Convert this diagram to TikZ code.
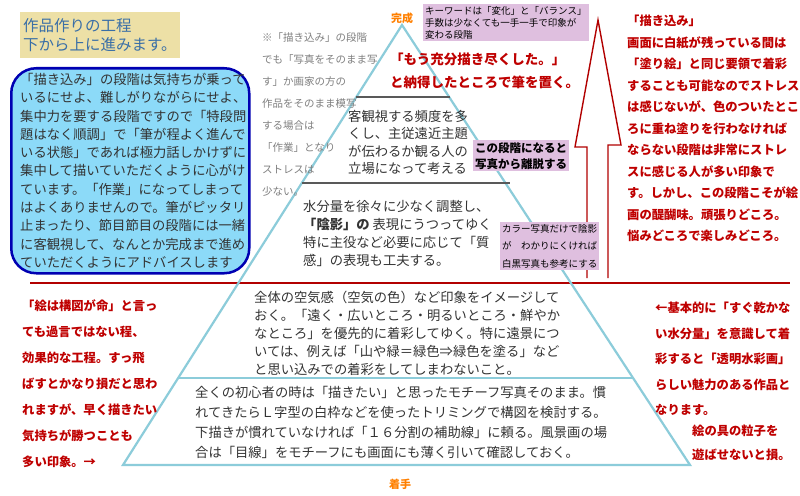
\documentclass[tikz,border=0pt]{standalone}
\usepackage{fontspec}
\setmainfont{Noto Sans CJK JP}
\definecolor{tan}{HTML}{EDE0A6}
\definecolor{trib}{HTML}{8CCCDA}
\definecolor{ttl}{HTML}{3A6FA6}
\begin{document}
\begin{tikzpicture}[x=1pt,y=-1pt,
  txt/.style={anchor=north west,align=left,inner sep=0pt,text=black!80},
  red/.style={txt,text=red!75!black,font=\bfseries},
  pbox/.style={fill=violet!25,inner sep=2pt,anchor=north west,align=left},
  tri/.style={draw=trib,line width=2.2pt},
  gl/.style={draw=gray!70!black,line width=2.5pt}]
\useasboundingbox (0,0) rectangle (800,495);
\fill[white] (0,0) rectangle (800,495);
% title
\node[fill=tan,anchor=north west,minimum width=145pt,minimum height=46pt,align=left,inner sep=3pt,text=ttl,font={\fontsize{15.5}{19}\selectfont}] (title) at (20,12) {作品作りの工程\\下から上に進みます。};
% blue box
\node[draw=blue!70!black,line width=2.5pt,fill=cyan!45,rounded corners=25pt,anchor=north west,minimum width=238pt,minimum height=205pt,inner sep=0pt] (bbox) at (10,67) {};
\node[txt,font={\fontsize{13.3}{18.3}\selectfont}] (btext) at (20,73) {「描き込み」の段階は気持ちが乗って\\いるにせよ、難しがりながらにせよ、\\集中力を要する段階ですので「特段問\\題はなく順調」で「筆が程よく進んで\\いる状態」であれば極力話しかけずに\\集中して描いていただくように心がけ\\ています。「作業」になってしまって\\はよくありませんので。筆がピッタリ\\止まったり、節目節目の段階には一緒\\に客観視して、なんとか完成まで進め\\ていただくようにアドバイスします};
% red separation line
\draw[red!70!black,line width=1.5pt] (30,283) coordinate (rl) -- (790,283) coordinate (rr);
% triangle
\coordinate (apex) at (402,25);
\coordinate (bl) at (123,465);
\coordinate (br) at (690,465);
\draw[tri] (bl) -- (apex) -- (br) -- cycle;
\draw[tri] (178,378) coordinate (ml) -- (633,378) coordinate (mr);
\draw[gl] (356,97) coordinate (g1) -- (450,97) coordinate (g2);
\draw[gl] (302,183) coordinate (g3) -- (510,183) coordinate (g4);
% gray note
\node[txt,text=gray,font={\fontsize{10.5}{22}\selectfont}] (note) at (262,32) {※「描き込み」の段階\\でも「写真をそのまま写\\す」か画家の方の\\作品をそのまま模写\\する場合は\\「作業」となり\\ストレスは\\少ない。};
\node[text=orange,font={\fontsize{11}{13}\selectfont\bfseries},inner sep=0pt] (kansei) at (402,18) {完成};
\node[pbox,font={\fontsize{9.5}{12}\selectfont}] (p1) at (423,4) {キーワードは「変化」と「バランス」\\手数は少なくても一手一手で印象が\\変わる段階};
\node[red,font={\fontsize{13.5}{23}\selectfont\bfseries}] (top) at (390,53) {「もう充分描き尽くした。」\\と納得したところで筆を置く。};
\node[txt,font={\fontsize{13.3}{17.3}\selectfont}] (m1) at (348,110) {客観視する頻度を多\\くし、主従遠近主題\\が伝わるか観る人の\\立場になって考える};
\node[pbox,font={\fontsize{11.5}{16}\selectfont\bfseries}] (p2) at (473,140) {この段階になると\\写真から離脱する};
\node[txt,font={\fontsize{13.3}{18}\selectfont}] (m2) at (303,200) {水分量を徐々に少なく調整し、\\{\bfseries「陰影」の} 表現にうつってゆく\\特に主役など必要に応じて「質\\感」の表現も工夫する。};
% arrow
\draw[red!70!black,line width=1.4pt,line join=miter] (587,278) -- (587,147) -- (575,147) -- (598,20) coordinate (atip) -- (621,145) -- (608,145) -- (608,278);
\node[pbox,font={\fontsize{9.5}{17.5}\selectfont}] (p3) at (500,222) {カラー写真だけで陰影\\が　わかりにくければ\\白黒写真も参考にする};
% right red text
\node[red,font={\fontsize{12.3}{21.5}\selectfont\bfseries}] (rt) at (627,15) {「描き込み」\\画面に白紙が残っている間は\\「塗り絵」と同じ要領で着彩\\することも可能なのでストレス\\は感じないが、色のついたとこ\\ろに重ね塗りを行わなければ\\ならない段階は非常にストレ\\スに感じる人が多い印象で\\す。しかし、この段階こそが絵\\画の醍醐味。頑張りどころ。\\悩みどころで楽しみどころ。};
% bottom texts
\node[txt,font={\fontsize{13.3}{18}\selectfont}] (b1) at (254,291) {全体の空気感（空気の色）など印象をイメージして\\おく。「遠く・広いところ・明るいところ・鮮やか\\なところ」を優先的に着彩してゆく。特に遠景につ\\いては、例えば「山や緑＝緑色⇒緑色を塗る」など\\と思い込みでの着彩をしてしまわないこと。};
\node[txt,font={\fontsize{13.3}{20}\selectfont}] (b2) at (195,386) {全くの初心者の時は「描きたい」と思ったモチーフ写真そのまま。慣\\れてきたらＬ字型の白枠などを使ったトリミングで構図を検討する。\\下描きが慣れていなければ「１６分割の補助線」に頼る。風景画の場\\合は「目線」をモチーフにも画面にも薄く引いて確認しておく。};
\node[red,font={\fontsize{12.3}{26}\selectfont\bfseries}] (lt) at (22,300) {「絵は構図が命」と言っ\\ても過言ではない程、\\効果的な工程。すっ飛\\ばすとかなり損だと思わ\\れますが、早く描きたい\\気持ちが勝つことも\\多い印象。→};
\node[red,font={\fontsize{12.3}{25.5}\selectfont\bfseries}] (rb) at (655,302) {←基本的に「すぐ乾かな\\い水分量」を意識して着\\彩すると「透明水彩画」\\らしい魅力のある作品と\\なります。};
\node[red,font={\fontsize{12.3}{24}\selectfont\bfseries}] (rb2) at (692,425) {絵の具の粒子を\\遊ばせないと損。};
\node[text=orange,font={\fontsize{11}{13}\selectfont\bfseries},inner sep=0pt] (chakushu) at (400,484) {着手};
\end{tikzpicture}
\end{document}
